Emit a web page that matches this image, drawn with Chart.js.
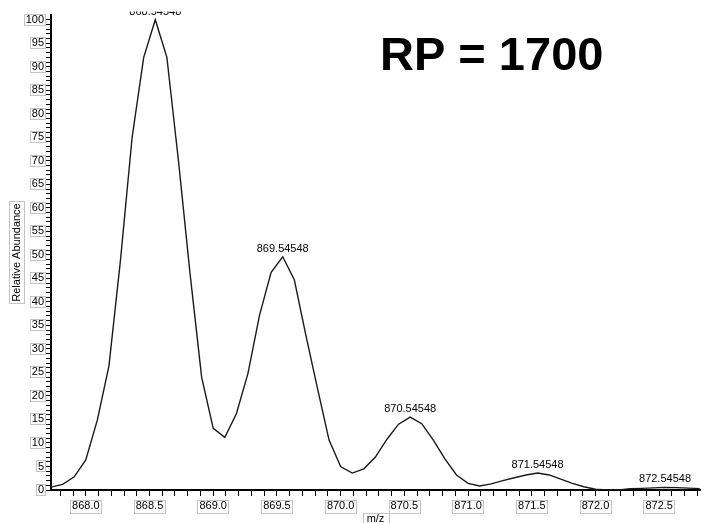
<!DOCTYPE html>
<html>
<head>
<meta charset="utf-8">
<script src="https://cdn.jsdelivr.net/npm/chart.js@4.4.1/dist/chart.umd.min.js"></script>
<style>
  html, body { margin: 0; padding: 0; background: #fff; overflow: hidden; }
  canvas { display: block; }
</style>
</head>
<body>
<canvas id="spectrum" width="704" height="530"></canvas>
<script>
// profile samples, m/z
const MZ = [
  867.7273, 867.8182, 867.9091, 868.0000, 868.0909, 868.1818, 868.2727, 868.3636, 868.4545,
  868.54548, 868.6364, 868.7273, 868.8182, 868.9091, 869.0000, 869.0909, 869.1818, 869.2727,
  869.3636, 869.4545, 869.54548, 869.6364, 869.7273, 869.8182, 869.9091, 870.0000, 870.0909,
  870.1818, 870.2727, 870.3636, 870.4545, 870.54548, 870.6364, 870.7273, 870.8182, 870.9091,
  871.0000, 871.0909, 871.1818, 871.2727, 871.3636, 871.4545, 871.54548, 871.6364, 871.7273,
  871.8182, 871.9091, 872.0000, 872.0909, 872.1818, 872.2727, 872.3636, 872.4545, 872.54548,
  872.6364, 872.7273, 872.8182
];

// relative abundance (%)
const ABUNDANCE = [
  0.6, 1.2, 2.8, 6.4, 14.9, 26.4, 49, 75, 92,
  100, 92, 70, 46, 24, 13.1, 11.2, 16.2, 24.8,
  37.2, 46.3, 49.6, 44.7, 32.9, 21.6, 10.6, 5.0, 3.6,
  4.5, 7.0, 10.8, 14.0, 15.5, 14.1, 10.6, 6.6, 3.2,
  1.4, 0.85, 1.3, 2.0, 2.6, 3.2, 3.6, 3.2, 2.3,
  1.4, 0.7, 0.15, 0, 0, 0.3, 0.35, 0.45, 0.55,
  0.5, 0.4, 0.3
];

// labelled centroids
const PEAK_INDEX = [9, 20, 31, 42, 53];
const PEAK_LABELS = ['868.54548', '869.54548', '870.54548', '871.54548', '872.54548'];

const RP_TEXT = 'RP = 1700';

const FONT = '"Liberation Sans", Arial, sans-serif';
const BOX_COLOR = '#c4c4c4';

function boxAround(ctx, x, y, w, h) {
    ctx.strokeRect(Math.round(x) + 0.5, Math.round(y) + 0.5, Math.round(w), Math.round(h));
}

// light frames round tick labels and axis titles
const labelBoxes = {
    id: 'labelBoxes',
    afterDraw(chart) {
        const ctx = chart.ctx;
        const xs = chart.scales.x;
        const ys = chart.scales.y;
        ctx.save();
        ctx.font = '11px ' + FONT;
        ctx.strokeStyle = BOX_COLOR;
        ctx.lineWidth = 1;

        ys.ticks.forEach(t => {
            if (t.value % 5 !== 0) return;
            const txt = String(t.value);
            const w = ctx.measureText(txt).width;
            const py = ys.getPixelForValue(t.value);
            const right = ys.right - 5 - 2;
            boxAround(ctx, right - w - 2, py - 6, w + 3, 11);
        });

        xs.ticks.forEach(t => {
            const v = t.value;
            if (Math.abs(v * 2 - Math.round(v * 2)) > 1e-6) return;
            const txt = v.toFixed(1);
            const w = ctx.measureText(txt).width;
            const px = xs.getPixelForValue(v);
            boxAround(ctx, px - w / 2 - 2, xs.top + 10, w + 3, 13);
        });

        // y title (rotated)
        const yt = 'Relative Abundance';
        const ytw = ctx.measureText(yt).width;
        const cy = (chart.chartArea.top + chart.chartArea.bottom) / 2;
        boxAround(ctx, 9, cy - ytw / 2 - 2, 15, ytw + 4);

        // x title
        const xt = 'm/z';
        const xtw = ctx.measureText(xt).width;
        const cx = (chart.chartArea.left + chart.chartArea.right) / 2;
        boxAround(ctx, cx - xtw / 2 - 4, xs.bottom - 17, xtw + 8, 14);
        ctx.restore();
    }
};

// centroid m/z labels above each isotope peak, plus the resolution note
const peakLabels = {
    id: 'peakLabels',
    afterDraw(chart) {
        const ctx = chart.ctx;
        const meta = chart.getDatasetMeta(0);
        const area = chart.chartArea;
        ctx.save();
        ctx.beginPath();
        ctx.rect(0, area.top - 3.5, chart.width, chart.height);
        ctx.clip();
        ctx.font = '11px ' + FONT;
        ctx.fillStyle = '#000';
        ctx.textAlign = 'center';
        ctx.textBaseline = 'middle';
        PEAK_INDEX.forEach((idx, i) => {
            const pt = meta.data[idx];
            ctx.fillText(PEAK_LABELS[i], pt.x, pt.y - 8);
        });
        ctx.restore();

        ctx.save();
        ctx.font = 'bold 47px ' + FONT;
        ctx.fillStyle = '#000';
        ctx.textAlign = 'left';
        ctx.textBaseline = 'alphabetic';
        ctx.fillText(RP_TEXT, area.left + 329, area.top + 55);
        ctx.restore();
    }
};

const ctx = document.getElementById('spectrum').getContext('2d');
new Chart(ctx, {
    type: 'line',
    data: {
        datasets: [{
            data: MZ.map((m, i) => ({ x: m, y: ABUNDANCE[i] })),
            borderColor: '#1a1a1a',
            borderWidth: 1.4,
            pointRadius: 0,
            tension: 0,
            fill: false
        }]
    },
    options: {
        responsive: false,
        animation: false,
        devicePixelRatio: 1,
        layout: { padding: { top: 15, right: 4, left: 0, bottom: 0 } },
        plugins: {
            legend: { display: false },
            tooltip: { enabled: false }
        },
        scales: {
            x: {
                type: 'linear',
                min: 867.727,
                max: 872.82,
                afterFit: (scale) => { scale.height = 40; },
                border: { color: '#000', width: 2 },
                grid: { drawOnChartArea: false, tickLength: 6, tickColor: '#000', tickWidth: 1 },
                ticks: {
                    stepSize: 0.1,
                    includeBounds: false,
                    autoSkip: false,
                    maxRotation: 0,
                    padding: 3,
                    color: '#000',
                    font: { family: FONT, size: 11 },
                    callback: (v) => Math.abs(v * 2 - Math.round(v * 2)) < 1e-6 ? Number(v).toFixed(1) : ''
                },
                title: {
                    display: true,
                    text: 'm/z',
                    color: '#000',
                    font: { family: FONT, size: 11 },
                    padding: { top: 0, bottom: 4 }
                }
            },
            y: {
                min: 0,
                max: 101,
                afterFit: (scale) => { scale.width = 51; },
                afterBuildTicks: (scale) => { scale.ticks = scale.ticks.filter(t => t.value <= 100); },
                border: { color: '#000', width: 2 },
                grid: { drawOnChartArea: false, tickLength: 5, tickColor: '#000', tickWidth: 1 },
                ticks: {
                    stepSize: 1,
                    autoSkip: false,
                    padding: 2,
                    color: '#000',
                    font: { family: FONT, size: 11 },
                    callback: (v) => v % 5 === 0 ? String(v) : ''
                },
                title: {
                    display: true,
                    text: 'Relative Abundance',
                    color: '#000',
                    font: { family: FONT, size: 11 },
                    padding: { top: 10, bottom: 0 }
                }
            }
        }
    },
    plugins: [labelBoxes, peakLabels]
});
</script>
</body>
</html>
